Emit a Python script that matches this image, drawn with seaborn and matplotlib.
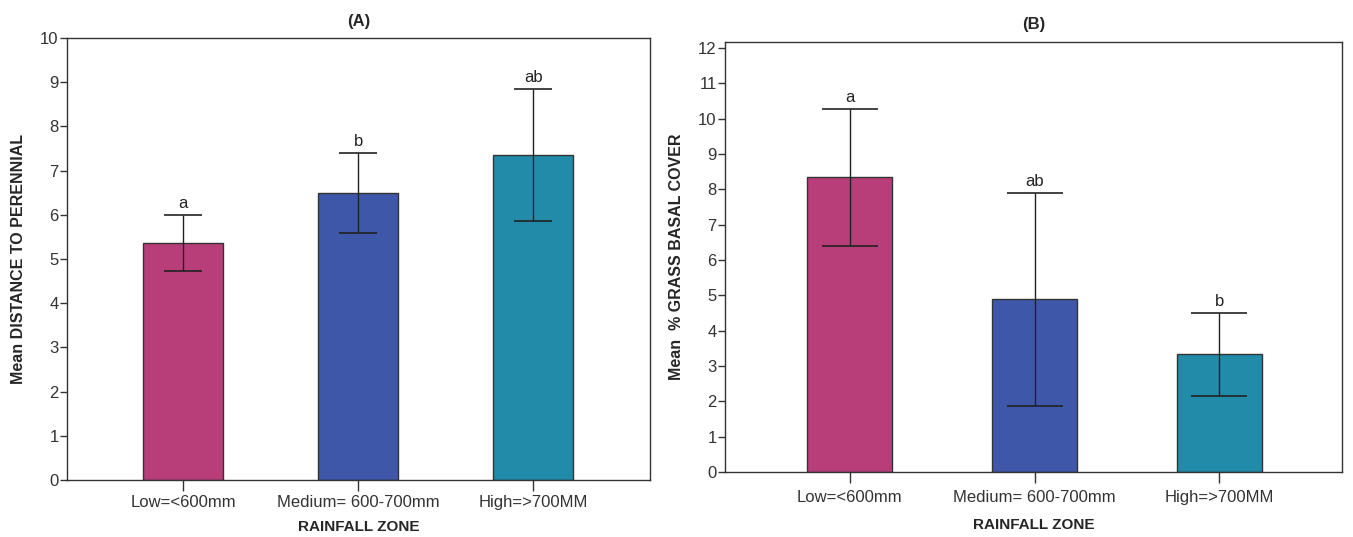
import matplotlib
matplotlib.use("Agg")
import matplotlib.pyplot as plt
import seaborn as sns
import pandas as pd

# Rainfall zones and colours
zones = ["Low=<600mm", "Medium= 600-700mm", "High=>700MM"]
colors = ["#B83E7A", "#3F57A8", "#238BAA"]

# (A) mean distance to perennial with 95% CI
dist_mean = [5.37, 6.50, 7.36]
dist_low = [4.73, 5.58, 5.85]
dist_high = [6.00, 7.40, 8.85]
dist_letters = ["a", "b", "ab"]

# (B) mean % grass basal cover with 95% CI
cover_mean = [8.35, 4.90, 3.33]
cover_low = [6.40, 1.88, 2.15]
cover_high = [10.28, 7.90, 4.50]
cover_letters = ["a", "ab", "b"]

sns.set_theme(style="white")
plt.rcParams["font.family"] = ["Liberation Sans", "DejaVu Sans"]

fig = plt.figure(figsize=(13.53, 5.37), dpi=100)
axA = fig.add_axes([0.0495, 0.1061, 0.4309, 0.8231])
axB = fig.add_axes([0.5358, 0.1210, 0.4561, 0.8008])

tick_font = {"family": ["Liberation Sans Narrow", "Liberation Sans", "DejaVu Sans"],
             "size": 12, "color": "#333333"}


def panel(ax, means, lows, highs, letters, ymax, yticks, title, ylabel, capsize,
          xlim, tickpad, xlabelpad):
    df = pd.DataFrame({"zone": zones, "mean": means})
    sns.barplot(data=df, x="zone", y="mean", hue="zone", palette=colors,
                width=0.46, edgecolor="#333333", linewidth=1.0, legend=False,
                errorbar=None, saturation=1, ax=ax)
    xs = list(range(len(zones)))
    yerr = [[m - lo for m, lo in zip(means, lows)],
            [hi - m for m, hi in zip(means, highs)]]
    ax.errorbar(xs, means, yerr=yerr, fmt="none", ecolor="#222222",
                elinewidth=1.0, capsize=capsize, capthick=1.2, zorder=5)
    for x, hi, lab in zip(xs, highs, letters):
        ax.annotate(lab, (x, hi), xytext=(0, 3), textcoords="offset points",
                    ha="center", va="bottom", fontsize=12,
                    family=["Liberation Sans Narrow", "Liberation Sans", "DejaVu Sans"],
                    color="#222222")
    ax.set_ylim(0, ymax)
    ax.set_xlim(*xlim)
    ax.set_yticks(yticks)
    ax.set_yticklabels([str(t) for t in yticks], fontdict=tick_font)
    ax.set_xticks(xs)
    ax.set_xticklabels(zones, fontdict=tick_font)
    ax.tick_params(axis="y", direction="out", length=5, width=1, color="#333333",
                   left=True, pad=1)
    ax.tick_params(axis="x", direction="out", length=8, width=1, color="#333333",
                   bottom=True, pad=tickpad)
    for s in ax.spines.values():
        s.set_visible(True)
        s.set_color("#333333")
        s.set_linewidth(1.0)
    ax.set_title(title, fontsize=12, fontweight="bold", pad=9)
    ax.set_xlabel("RAINFALL ZONE", fontsize=11, fontweight="bold", labelpad=xlabelpad)
    ax.set_ylabel(ylabel, fontsize=11.5, fontweight="bold", labelpad=10)


panel(axA, dist_mean, dist_low, dist_high, dist_letters, 10, list(range(0, 11)),
      "(A)", "Mean DISTANCE TO PERENNIAL", 14, (-0.663, 2.667), 3, 7)
panel(axB, cover_mean, cover_low, cover_high, cover_letters, 12.17, list(range(0, 13)),
      "(B)", "Mean  % GRASS BASAL COVER", 20, (-0.676, 2.665), 5, 9)

fig.savefig("out.png", dpi=100)
